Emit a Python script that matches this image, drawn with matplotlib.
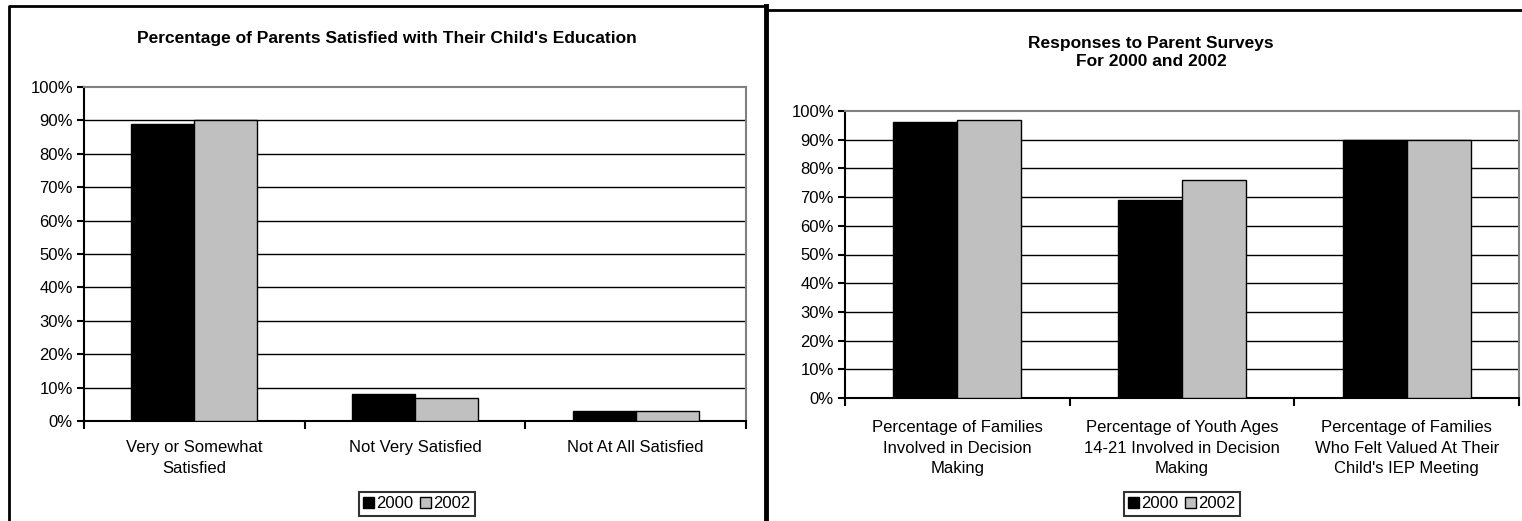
import numpy as np
import matplotlib.pyplot as plt
from matplotlib.patches import Patch
from matplotlib.lines import Line2D

plt.rcParams['font.family'] = ['Liberation Sans', 'DejaVu Sans']

# data
years = ['2000', '2002']
left_cats = ['Very or Somewhat\nSatisfied', 'Not Very Satisfied', 'Not At All Satisfied']
left_2000 = [89, 8, 3]
left_2002 = [90, 7, 3]

right_cats = ['Percentage of Families\nInvolved in Decision\nMaking',
              'Percentage of Youth Ages\n14-21 Involved in Decision\nMaking',
              'Percentage of Families\nWho Felt Valued At Their\nChild\'s IEP Meeting']
right_2000 = [96, 69, 90]
right_2002 = [97, 76, 90]

left_title = "Percentage of Parents Satisfied with Their Child's Education"
right_title = "Responses to Parent Surveys\nFor 2000 and 2002"

W, H = 1522, 521
fig = plt.figure(figsize=(W / 100, H / 100), dpi=100)


def px_axes(x0, y0, x1, y1):
    return fig.add_axes([x0 / W, 1 - y1 / H, (x1 - x0) / W, (y1 - y0) / H])


def bar_panel(ax, cats, v0, v1, label_pad):
    x = np.arange(len(cats))
    bw = 0.285
    ax.bar(x - bw / 2, v0, bw, color='black', edgecolor='black', linewidth=1, zorder=3)
    ax.bar(x + bw / 2, v1, bw, color='#c0c0c0', edgecolor='black', linewidth=1, zorder=3)
    ax.set_xlim(-0.5, len(cats) - 0.5)
    ax.set_ylim(0, 100)
    ax.set_yticks(np.arange(0, 101, 10))
    ax.set_yticklabels(['%d%%' % v for v in range(0, 101, 10)], fontsize=12)
    for v in range(10, 100, 10):
        ax.axhline(v, color='black', linewidth=1, zorder=1)
    # ticks at the category boundaries, labels at the centres
    ax.set_xticks(np.arange(-0.5, len(cats), 1.0))
    ax.set_xticklabels([])
    ax.set_xticks(x, minor=True)
    ax.set_xticklabels(cats, minor=True, fontsize=12, linespacing=1.45)
    ax.tick_params(axis='x', which='major', direction='out', length=6, width=1.5)
    ax.tick_params(axis='x', which='minor', length=0, pad=label_pad)
    ax.tick_params(axis='y', direction='out', length=5, width=1.5, pad=3)
    ax.spines['left'].set_linewidth(1.5)
    ax.spines['bottom'].set_linewidth(1.5)
    ax.spines['top'].set_color('#808080')
    ax.spines['right'].set_color('#808080')
    ax.spines['top'].set_linewidth(1.5)
    ax.spines['right'].set_linewidth(1.5)
    ax.set_zorder(2)


def add_legend(ax, cx, cy):
    handles = [Patch(facecolor='black', edgecolor='black'),
               Patch(facecolor='#c0c0c0', edgecolor='black')]
    leg = fig.legend(handles, years, loc='center', bbox_to_anchor=(cx / W, 1 - cy / H),
                     ncol=2, fontsize=12, frameon=True, fancybox=False,
                     handlelength=0.65, handleheight=0.65, handletextpad=0.15,
                     columnspacing=0.4, borderpad=0.25, borderaxespad=0)
    leg.get_frame().set_edgecolor('black')
    leg.get_frame().set_linewidth(1.5)


ax1 = px_axes(84, 87, 746, 421)
bar_panel(ax1, left_cats, left_2000, left_2002, 14)
ax2 = px_axes(845, 111, 1519, 398)
bar_panel(ax2, right_cats, right_2000, right_2002, 16)

fig.text(387 / W, 1 - 39 / H, left_title, ha='center', va='center',
         fontsize=12.5, fontweight='bold')
fig.text(1151 / W, 1 - 52.5 / H, right_title, ha='center', va='center',
         fontsize=12.5, fontweight='bold', linespacing=1.28)

add_legend(ax1, 417, 504)
add_legend(ax2, 1182, 504)

# panel borders
def fline(xs, ys, lw):
    fig.add_artist(Line2D([x / W for x in xs], [1 - y / H for y in ys],
                          color='black', linewidth=lw, solid_capstyle='projecting'))

fline([9, 9, 766], [H + 5, 6, 6], 2)
fline([766, 766], [6, H + 5], 3.5)
fline([766, W + 5], [10, 10], 2)

fig.savefig('out.png', dpi=100)
